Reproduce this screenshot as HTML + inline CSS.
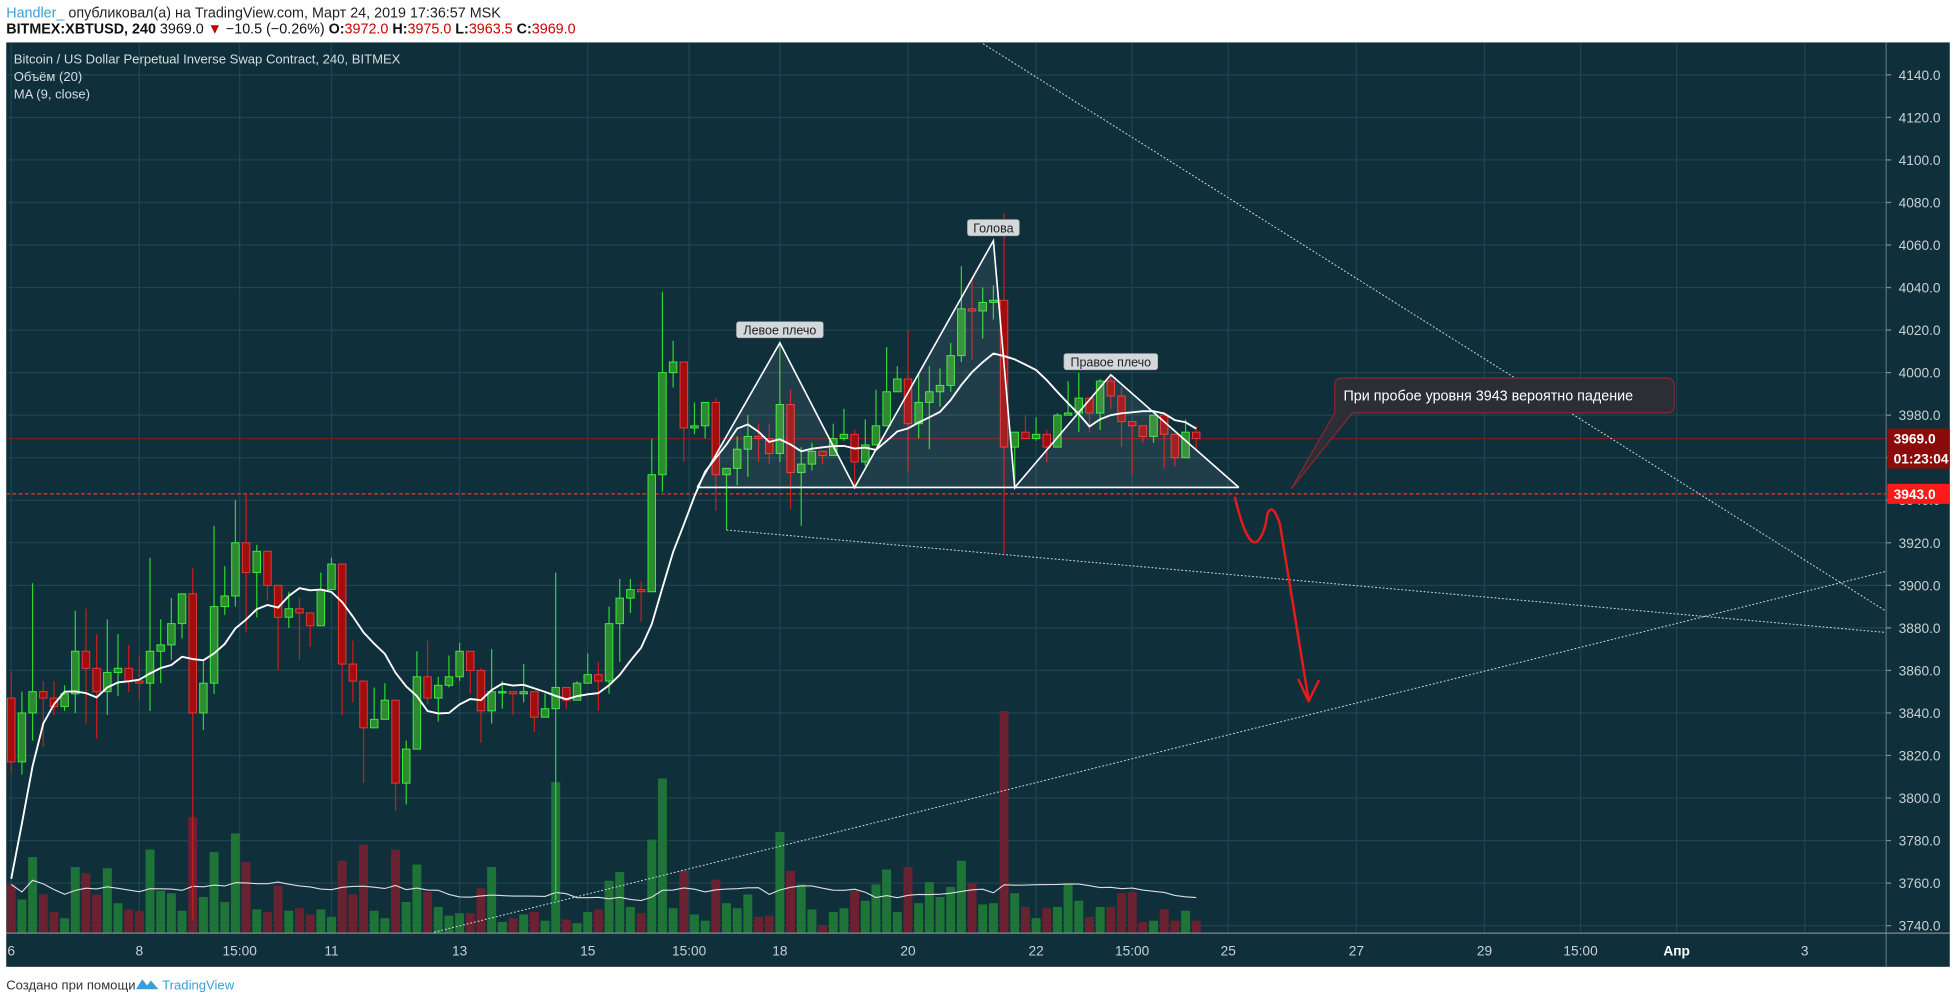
<!DOCTYPE html>
<html><head><meta charset="utf-8">
<style>
html,body{margin:0;padding:0;background:#fff;width:1956px;height:1003px;overflow:hidden;}
svg{display:block;}
text{font-family:"Liberation Sans","DejaVu Sans",sans-serif;}
</style></head>
<body>
<svg id="chart" width="1956" height="1003" viewBox="0 0 1568 804" preserveAspectRatio="none" xmlns="http://www.w3.org/2000/svg">
  <g>
    <text x="5" y="14" font-size="11.5" fill="#222"><tspan fill="#3a9fd6">Handler_</tspan> опубликовал(а) на TradingView.com, Март 24, 2019 17:36:57 MSK</text>
    <text x="5" y="27" font-size="11.5" fill="#111"><tspan font-weight="bold">BITMEX:XBTUSD, 240</tspan> 3969.0 <tspan fill="#b00">▼</tspan> −10.5 (−0.26%) <tspan font-weight="bold">O:</tspan><tspan fill="#c00">3972.0</tspan> <tspan font-weight="bold">H:</tspan><tspan fill="#c00">3975.0</tspan> <tspan font-weight="bold">L:</tspan><tspan fill="#c00">3963.5</tspan> <tspan font-weight="bold">C:</tspan><tspan fill="#c00">3969.0</tspan></text>
  </g>
  <rect x="5" y="34" width="1558" height="741" fill="#0f2f3b"/>
  <g id="grid"></g>
  <g id="volume"></g>
  <g id="lines"></g>
  <g id="candles"></g>
  <g id="pattern"></g>
  <g id="axes"></g>
  <g>
    <text x="11" y="51" font-size="10.5" fill="#d5dde0">Bitcoin / US Dollar Perpetual Inverse Swap Contract, 240, BITMEX</text>
    <text x="11" y="65" font-size="10.5" fill="#d5dde0">Объём (20)</text>
    <text x="11" y="79" font-size="10.5" fill="#d5dde0">MA (9, close)</text>
  </g>
  <g>
    <text x="5" y="793" font-size="10.5" fill="#333">Создано при помощи</text>
    <path d="M109 793 l5 -8 l4 5 l3 -4 l6 7 z" fill="#3a9fd6"/>
    <text x="130" y="793" font-size="10.5" fill="#3a9fd6">TradingView</text>
  </g>
</svg>
<script>
const priceTicks = [3740,3760,3780,3800,3820,3840,3860,3880,3900,3920,3940,3960,3980,4000,4020,4040,4060,4080,4100,4120,4140];
const timeLabels = ["6","8","15:00","11","13","15","15:00","18","20","22","15:00","25","27","29","15:00","Апр","3"];
const timeLabelIdx = [0,12,21.4,30,42,54,63.5,72,84,96,105,114,126,138,147,156,168];
const priorCloses = [3606,3607,3667,3762,3795,3868,3868,3868];
const opens = [3847,3817,3840,3850,3847,3843,3849,3869,3861,3850,3859,3861,3855,3854,3869,3872,3882,3896,3840,3854,3890,3895,3920,3906,3916,3900,3885,3889,3887,3881,
3898,3910,3863,3855,3833,3837,3846,3807,3823,3857,3847,3853,3857,3869,3860,3841,3850,3850,3849,3850,3838,3842,3852,3846,3854,3858,3855,3882,3894,3898,
3897,3952,4000,4005,3974,3975,3986,3952,3955,3964,3970,3969,3962,3985,3953,3957,3963,3961,3969,3971,3958,3966,3975,3991,3997,3976,3986,3991,3994,4008,
4030,4029,4033,4034,3965,3972,3969,3971,3965,3980,3981,3988,3981,3996,3989,3977,3975,3970,3980,3971,3960,3972];
const closes = [3817,3840,3850,3847,3843,3849,3869,3861,3850,3859,3861,3855,3854,3869,3872,3882,3896,3840,3854,3890,3895,3920,3906,3916,3900,3885,3889,3887,3881,3898,
3910,3863,3855,3833,3837,3846,3807,3823,3857,3847,3853,3857,3869,3860,3841,3850,3850,3849,3850,3838,3842,3852,3846,3854,3858,3855,3882,3894,3898,3897,
3952,4000,4005,3974,3975,3986,3952,3955,3964,3970,3969,3962,3985,3953,3957,3963,3961,3969,3971,3958,3966,3975,3991,3997,3976,3986,3991,3994,4008,4030,
4029,4033,4034,3965,3972,3969,3971,3965,3980,3981,3988,3981,3996,3989,3977,3975,3970,3980,3971,3960,3972,3969];
const highs = [3859,3850,3901,3855,3855,3853,3888,3889,3877,3884,3877,3872,3867,3913,3884,3894,3896,3908,3865,3928,3909,3940,3943,3919,3916,3900,3897,3894,3887,3906,
3913,3910,3874,3855,3852,3854,3846,3827,3869,3874,3857,3867,3873,3869,3861,3870,3855,3850,3863,3850,3849,3906,3852,3855,3868,3864,3890,3903,3903,3902,
3969,4038,4015,4005,3986,3986,3988,3955,3970,3980,3976,3976,4014,3992,3965,3967,3963,3976,3983,3973,3978,3992,4012,4003,4020,4000,4003,4002,4014,4050,
4044,4040,4041,4075,3972,3980,3979,3973,3981,3996,4000,3988,3997,3999,3993,3977,3975,3980,3980,3971,3978,3975];
const lows = [3812,3811,3827,3824,3839,3841,3840,3835,3828,3839,3848,3850,3846,3841,3854,3865,3875,3743,3832,3849,3886,3890,3878,3885,3893,3860,3880,3865,3871,3881,
3898,3839,3845,3807,3833,3837,3794,3797,3823,3844,3836,3852,3855,3849,3826,3835,3842,3839,3845,3831,3838,3752,3842,3846,3854,3841,3849,3864,3887,3883,
3897,3944,3993,3958,3971,3969,3935,3926,3947,3951,3958,3957,3958,3936,3928,3954,3957,3961,3968,3945,3956,3966,3975,3991,3953,3969,3964,3984,3991,4005,
4006,4016,4025,3915,3945,3969,3968,3958,3965,3980,3972,3972,3973,3983,3965,3952,3967,3967,3955,3956,3960,3964];
const volumes = [39,27,61,31,17,12,53,48,31,52,24,19,18,67,34,32,18,93,29,65,25,80,57,19,17,38,18,20,15,19,
13,58,31,71,18,12,67,25,55,33,21,14,16,16,36,53,9,12,15,17,10,121,11,8,17,19,42,49,21,16,
75,124,20,50,15,10,43,24,20,31,13,14,81,50,39,19,6,17,20,34,26,39,51,17,53,24,41,29,37,58,
40,23,24,178,32,21,12,20,21,40,26,13,21,21,32,33,9,10,19,10,18,10];
const patternIdx = [64.25,72,79,92,94,103,115];
const patternPrice = [3946,4014,3946,4062,3946,3999,3946];
const patternLabels = ["Левое плечо","Голова","Правое плечо"];
const levelPrices = [3969,3943];

const NS="http://www.w3.org/2000/svg";
const PL=5, PR=1512, PT=34, PB=748;
function xOf(i){return 9+i*8.558;}
function yOf(p){return 742-(p-3740)*1.705;}
function yVol(v){return PB-v;}
function mk(tag,attrs,parent){const e=document.createElementNS(NS,tag);for(const k in attrs)e.setAttribute(k,attrs[k]);parent.appendChild(e);return e;}
const G=id=>document.getElementById(id);

const grid=G('grid');
priceTicks.forEach(p=>{const l=mk('line',{x1:PL,x2:PR,y1:yOf(p),y2:yOf(p),stroke:'#1f4553','stroke-width':1},grid);

});
timeLabelIdx.forEach(i=>{const l=mk('line',{x1:xOf(i),x2:xOf(i),y1:PT,y2:PB,stroke:'#1f4553','stroke-width':1},grid);

});

const vol=G('volume');
volumes.forEach((v,i)=>{const up=closes[i]>=opens[i];
const r=mk('rect',{x:xOf(i)-3.6,y:yVol(v),width:7.2,height:v,fill:up?'#1d7436':'#6a2230'},vol);

});
let vpts=[];volumes.forEach((v,i)=>{const s=Math.max(0,i-19);const w=volumes.slice(s,i+1);const a=w.reduce((x,y)=>x+y,0)/w.length;vpts.push(xOf(i)+','+yVol(a));});
const vma=mk('polyline',{points:vpts.join(' '),fill:'none',stroke:'#d8dde0','stroke-width':0.9},vol);



const ln=G('lines');
const l1=mk('line',{x1:PL,x2:PR,y1:yOf(levelPrices[0]),y2:yOf(levelPrices[0]),stroke:'#7a1c25','stroke-width':1},ln);


const l2=mk('line',{x1:PL,x2:PR,y1:yOf(levelPrices[1]),y2:yOf(levelPrices[1]),stroke:'#e02424','stroke-width':1.3,'stroke-dasharray':'3,2'},ln);


[[788,35,1512,490],[xOf(67),yOf(3926),1512,507],[345,748,1512,458]].forEach(c=>{
const t=mk('line',{x1:c[0],y1:c[1],x2:c[2],y2:c[3],stroke:'#cfd8dc','stroke-width':0.8,'stroke-dasharray':'1.5,1.5'},ln);

});

const pat=G('pattern');
for(let k=0;k<3;k++){const a=2*k,pts=[];for(let j=a;j<=a+2;j++)pts.push(xOf(patternIdx[j])+','+yOf(patternPrice[j]));
const f=mk('polygon',{points:pts.join(' '),fill:'rgba(200,225,235,0.09)'},pat);

}

let closesAll=priorCloses.concat(closes);let mpts=[];
closes.forEach((c,i)=>{const w=closesAll.slice(i,i+9);mpts.push(xOf(i)+','+yOf(w.reduce((x,y)=>x+y,0)/9));});

const cg=G('candles');
opens.forEach((o,i)=>{const c=closes[i],up=c>=o,x=xOf(i);
const w=mk('line',{x1:x,x2:x,y1:yOf(highs[i]),y2:yOf(lows[i]),stroke:up?'#2fd02f':'#c51d1d','stroke-width':1},cg);


const top=yOf(Math.max(o,c)),h=Math.max(1,Math.abs(yOf(o)-yOf(c)));
const b=mk('rect',{x:x-3,y:top,width:6,height:h,fill:up?'#2e8a2e':'#a30d0d',stroke:up?'#3ee83e':'#e03a3a','stroke-width':0.8},cg);

});
const ma=mk('polyline',{points:mpts.join(' '),fill:'none',stroke:'#ffffff','stroke-width':1.5},cg);



const pp=patternIdx.map((v,j)=>xOf(v)+','+yOf(patternPrice[j]));
const pl=mk('polyline',{points:pp.join(' '),fill:'none',stroke:'#ffffff','stroke-width':1.3},pat);


const nk=mk('line',{x1:xOf(patternIdx[0]),x2:xOf(patternIdx[6]),y1:yOf(patternPrice[0]),y2:yOf(patternPrice[0]),stroke:'#ffffff','stroke-width':1.3},pat);


[1,3,5].forEach((j,k)=>{const x=xOf(patternIdx[j]),y=yOf(patternPrice[j])-10;const t=patternLabels[k];const wdt=t.length*5.6+8;
const r=mk('rect',{x:x-wdt/2,y:y-7,width:wdt,height:13,rx:2,fill:'#d3d8db',stroke:'#9aa3a8','stroke-width':0.5},pat);


const tx=mk('text',{x:x,y:y+3.5,'font-size':10,'text-anchor':'middle',fill:'#222'},pat);tx.textContent=t;

});

const ar=mk('path',{d:'M990 399 Q1000 440 1008 434 Q1014 428 1016 412 Q1020 402 1026 420 L1049 561 M1041 545 L1049 562 L1057 546',fill:'none',stroke:'#e41b1b','stroke-width':2,'stroke-linecap':'round','stroke-linejoin':'round'},ln);


const co=mk('path',{d:'M1076 303 H1336 Q1342 303 1342 309 V325 Q1342 331 1336 331 H1084 L1035 392 L1070 331 Q1070 331 1070 325 V309 Q1070 303 1076 303 Z',fill:'#2b2e34',stroke:'#8a2630','stroke-width':1},ln);


const ct=mk('text',{x:1077,y:321,'font-size':11.5,fill:'#ffffff'},ln);ct.textContent='При пробое уровня 3943 вероятно падение';



const ax=G('axes');
mk('line',{x1:PR,x2:PR,y1:PT,y2:775,stroke:'#5b6e76','stroke-width':1},ax);
mk('line',{x1:PL,x2:1563,y1:PB,y2:PB,stroke:'#7d8b91','stroke-width':1},ax);
priceTicks.forEach(p=>{const t=mk('text',{x:1522,y:yOf(p)+4,'font-size':11,fill:'#c9d0d3'},ax);t.textContent=p.toFixed(1);


mk('line',{x1:PR,x2:PR+4,y1:yOf(p),y2:yOf(p),stroke:'#7d8b91'},ax);});
timeLabels.forEach((s,k)=>{const t=mk('text',{x:xOf(timeLabelIdx[k]),y:766,'font-size':11,'text-anchor':'middle',fill:s==='Апр'?'#ffffff':'#c9d0d3','font-weight':s==='Апр'?'bold':'normal'},ax);t.textContent=s;

});
function badge(y,h,bg,txt,name){const r=mk('rect',{x:PR+1,y:y,width:50,height:h,fill:bg},ax);


const t=mk('text',{x:PR+6,y:y+h-4,'font-size':11,'font-weight':'bold',fill:'#fff'},ax);t.textContent=txt;

}
badge(yOf(levelPrices[0])-8,16,'#8b0a0a','3969.0','last-price-badge');
badge(yOf(levelPrices[0])+8,16,'#8b0a0a','01:23:04','countdown-badge');
badge(yOf(levelPrices[1])-8,16,'#ff1a1a','3943.0','level-price-badge');
</script>
</body></html>
